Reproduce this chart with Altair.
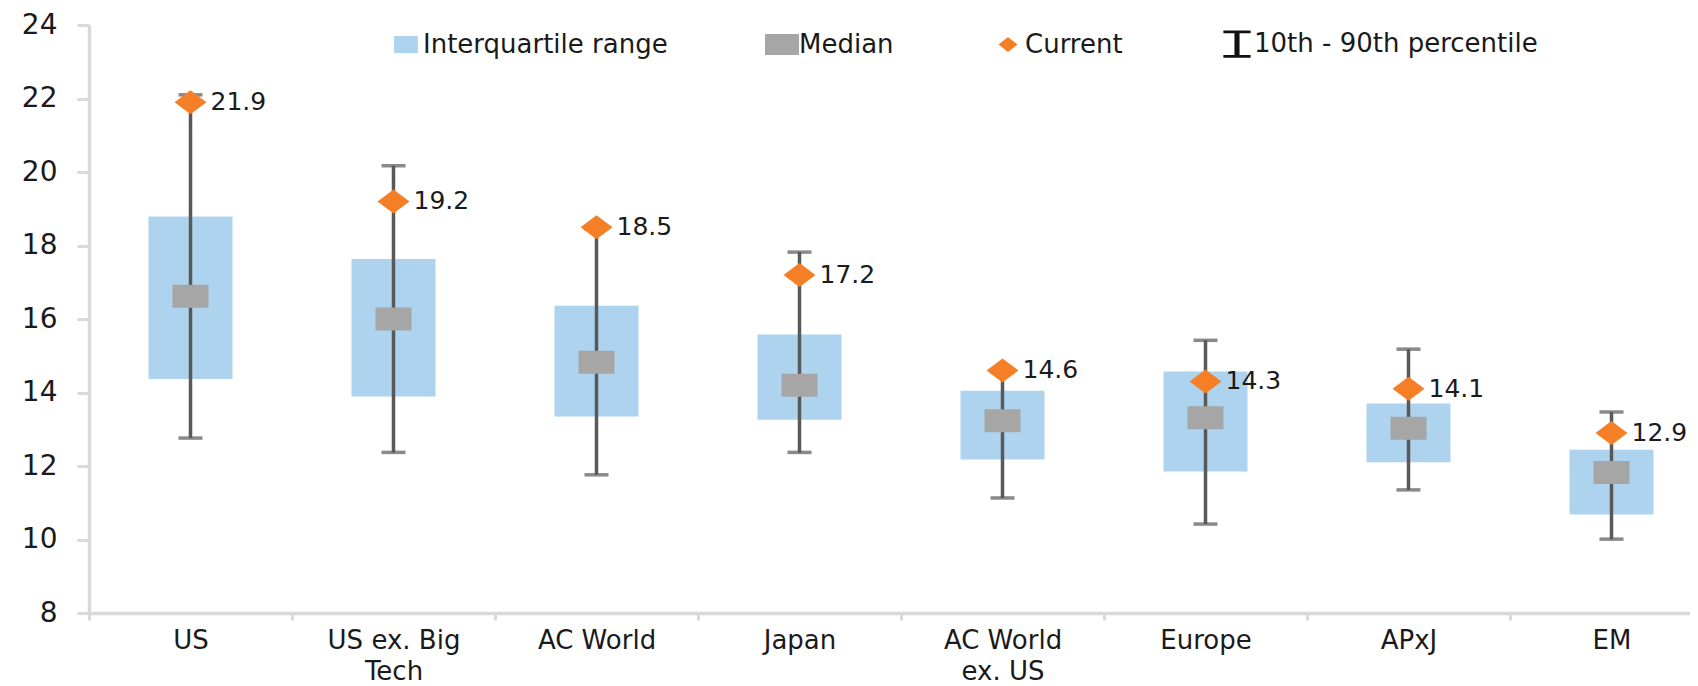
import altair as alt
import pandas as pd

# ---- data ----
categories = ["US", "US ex. Big\nTech", "AC World", "Japan", "AC World\nex. US",
              "Europe", "APxJ", "EM"]
p10 = [12.76, 12.37, 11.76, 12.37, 11.13, 10.42, 11.35, 10.01]
p90 = [22.1, 20.17, 18.45, 17.82, 14.55, 15.42, 15.18, 13.47]
q1 = [14.37, 13.89, 13.35, 13.26, 12.18, 11.85, 12.10, 10.68]
q3 = [18.79, 17.63, 16.36, 15.58, 14.05, 14.57, 13.70, 12.44]
median = [16.62, 16.00, 14.82, 14.20, 13.23, 13.31, 13.03, 11.82]
current = [21.9, 19.2, 18.5, 17.2, 14.6, 14.3, 14.1, 12.9]
y_ticks = [8, 10, 12, 14, 16, 18, 20, 22, 24]

legend_items = ["Interquartile range", "Median", "Current", "10th - 90th percentile"]
legend_colors = ["#AED3EF", "#A6A6A6", "#F57F26", "#111111"]
legend_shapes = [
    "M-0.7,-0.5L0.7,-0.5L0.7,0.5L-0.7,0.5Z",
    "M-1,-0.62L1,-0.62L1,0.62L-1,0.62Z",
    "M-0.56,0L0,-0.44L0.56,0L0,0.44Z",
    "M-0.8,-0.8L0.8,-0.8L0.8,-0.64L0.15,-0.64L0.15,0.64L0.8,0.64L0.8,0.8L-0.8,0.8L-0.8,0.64L-0.15,0.64L-0.15,-0.64L-0.8,-0.64Z",
]

df = pd.DataFrame({
    "cat": categories, "p10": p10, "p90": p90, "q1": q1, "q3": q3,
    "median": median, "current": current,
})
leg_df = pd.DataFrame({"item": legend_items})

FONT = "DejaVu Sans"
TXT = "#1a1a1a"
AXC = "#D9D9D9"

x_enc = alt.X(
    "cat:N", sort=categories, title=None,
    scale=alt.Scale(range=[0, 1624], paddingInner=0, paddingOuter=0),
    axis=alt.Axis(
        labelAngle=0, labelExpr="split(datum.label, '\\n')",
        labelFont=FONT, labelFontSize=26, labelColor=TXT, labelLineHeight=31,
        labelPadding=7, labelBaseline="top",
        domainColor=AXC, domainWidth=3.5, tickColor=AXC, tickWidth=3,
        tickSize=7, tickBand="extent", labelLimit=400,
    ),
)
y_scale = alt.Scale(domain=[8, 24], nice=False, zero=False)
y_axis = alt.Axis(
    values=y_ticks, grid=False, labelFont=FONT, labelFontSize=28,
    labelColor=TXT, labelPadding=20, domainColor=AXC, domainWidth=3.5,
    tickColor=AXC, tickWidth=3, tickSize=12, labelBound=False, labelFlush=False,
)

base = alt.Chart(df)

box = base.mark_bar(size=84, color="#AED3EF").encode(
    x=x_enc,
    y=alt.Y("q1:Q", scale=y_scale, axis=y_axis, title=None),
    y2="q3:Q",
)
whisker = base.mark_rule(color="#595959", strokeWidth=3.5).encode(
    x=alt.X("cat:N", sort=categories), y="p10:Q", y2="p90:Q"
)
cap_lo = base.mark_tick(size=24, thickness=3.5, color="#595959").encode(
    x=alt.X("cat:N", sort=categories), y="p10:Q"
)
cap_hi = base.mark_tick(size=24, thickness=3.5, color="#595959").encode(
    x=alt.X("cat:N", sort=categories), y="p90:Q"
)
med = base.mark_tick(size=36, thickness=23, color="#A6A6A6", opacity=1).encode(
    x=alt.X("cat:N", sort=categories), y="median:Q"
)
cur = base.mark_point(
    shape="M-1.33,0L0,-1L1.33,0L0,1Z", size=576, filled=True,
    color="#F57F26", opacity=1, strokeWidth=0,
).encode(x=alt.X("cat:N", sort=categories), y="current:Q")
lab = base.mark_text(
    align="left", baseline="middle", dx=20, font=FONT, fontSize=25, color=TXT
).encode(
    x=alt.X("cat:N", sort=categories), y="current:Q",
    text=alt.Text("current:Q", format=".1f"),
)

leg = alt.Legend(
    orient="none", legendX=300, legendY=2, direction="horizontal", columns=4,
    title=None, symbolSize=1156, symbolStrokeWidth=0, symbolOpacity=1,
    labelFont=FONT, labelFontSize=26, labelColor=TXT, labelOffset=0,
    columnPadding=97, labelLimit=400, padding=0,
)
legend_layer = alt.Chart(leg_df).mark_point(filled=True, opacity=0).encode(
    color=alt.Color("item:N", sort=legend_items,
                    scale=alt.Scale(domain=legend_items, range=legend_colors),
                    legend=leg),
    shape=alt.Shape("item:N", sort=legend_items,
                    scale=alt.Scale(domain=legend_items, range=legend_shapes),
                    legend=leg),
)

chart = alt.layer(box, whisker, cap_lo, cap_hi, med, cur, lab, legend_layer).properties(
    width=1601, height=588,
    padding={"left": 81, "top": 17, "right": 0, "bottom": 73},
    autosize=alt.AutoSizeParams(type="none"),
    background="white",
).configure_view(stroke=None)

chart.save("out.html", embed_options={"renderer": "svg", "actions": False})
